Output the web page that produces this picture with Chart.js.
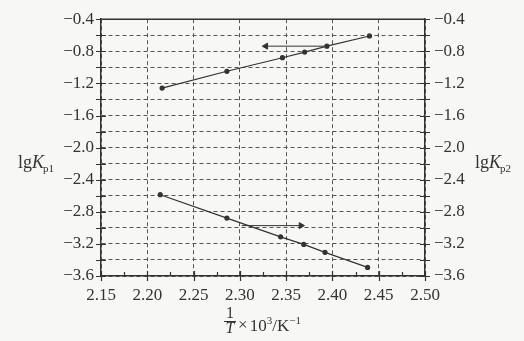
<!DOCTYPE html>
<html>
<head>
<meta charset="utf-8">
<script src="https://cdn.jsdelivr.net/npm/chart.js@4/dist/chart.umd.min.js"></script>
<style>
    html, body { margin: 0; padding: 0; background: #f7f7f5; }
    #wrap { width: 524px; height: 341px; }
</style>
</head>
<body>
<div id="wrap"><canvas id="lgkChart" width="524" height="341"></canvas></div>
<script>
// ===== 数据 =====
const invT1 = [2.216, 2.286, 2.346, 2.370, 2.394, 2.440];       // 上面一条线 1/T
const lgKp1 = [-1.258, -1.049, -0.880, -0.810, -0.736, -0.609];
const invT2 = [2.214, 2.286, 2.344, 2.369, 2.392, 2.438];       // 下面一条线 1/T
const lgKp2 = [-2.587, -2.878, -3.112, -3.206, -3.305, -3.493];

// 箭头（指向所读的坐标轴）
const arrow1X = [2.394, 2.328];
const arrow1Y = [-0.736, -0.736];
const arrow2X = [2.302, 2.366];
const arrow2Y = [-2.972, -2.972];

// 刻度标签
const xTickLabels = ['2.15', '2.20', '2.25', '2.30', '2.35', '2.40', '2.45', '2.50'];
const yTickLabels = ['−0.4', '−0.8', '−1.2', '−1.6', '−2.0', '−2.4', '−2.8', '−3.2', '−3.6'];

const ink = '#333333';
const gridInk = '#555555';
const serif = "'Liberation Serif', 'DejaVu Serif', serif";

function toPts(xs, ys) {
    return xs.map((x, i) => ({ x: x, y: ys[i] }));
}

function findLabel(labels, value) {
    const hit = labels.find(l => Math.abs(Number(l.replace('−', '-')) - value) < 1e-6);
    return hit ? hit : '';
}

// ===== 坐标轴上的短刻度线（穿过轴线） =====
const crossTicks = {
    id: 'crossTicks',
    afterDraw(chart) {
        const ctx = chart.ctx;
        const area = chart.chartArea;
        const xs = chart.scales.x;
        const yl = chart.scales.y;
        ctx.save();
        ctx.strokeStyle = ink;
        ctx.lineWidth = 1.2;
        ctx.beginPath();
        yl.ticks.forEach(t => {
            const py = Math.round(yl.getPixelForValue(t.value)) + 0.5;
            ctx.moveTo(area.left - 5, py); ctx.lineTo(area.left + 5, py);
            ctx.moveTo(area.right - 5, py); ctx.lineTo(area.right + 5, py);
        });
        xs.ticks.forEach(t => {
            const px = Math.round(xs.getPixelForValue(t.value)) + 0.5;
            const major = findLabel(xTickLabels, t.value) !== '';
            if (major) {
                ctx.moveTo(px, area.bottom - 5); ctx.lineTo(px, area.bottom + 5);
            } else {
                ctx.moveTo(px, area.bottom - 4); ctx.lineTo(px, area.bottom);
            }
        });
        ctx.stroke();
        ctx.restore();
    }
};

// ===== 轴标题（lgKp1、lgKp2、1/T×10³/K⁻¹） =====
function drawLgK(ctx, x, y, sub) {
    ctx.font = '18px ' + serif;
    ctx.fillText('lg', x, y);
    let w = ctx.measureText('lg').width;
    ctx.font = 'italic 18px ' + serif;
    ctx.fillText('K', x + w, y);
    w += ctx.measureText('K').width;
    ctx.font = '11px ' + serif;
    ctx.fillText(sub, x + w - 1, y + 4);
}

const axisText = {
    id: 'axisText',
    afterDraw(chart) {
        const ctx = chart.ctx;
        ctx.save();
        ctx.fillStyle = ink;
        ctx.textBaseline = 'alphabetic';
        ctx.textAlign = 'left';
        drawLgK(ctx, 18, 168, 'p1');
        drawLgK(ctx, 475, 168, 'p2');

        // 分数 1/T
        const fx = 230;
        ctx.textAlign = 'center';
        ctx.font = '16px ' + serif;
        ctx.fillText('1', fx, 318);
        ctx.font = 'italic 16px ' + serif;
        ctx.fillText('T', fx, 333);
        ctx.strokeStyle = ink;
        ctx.lineWidth = 1;
        ctx.beginPath();
        ctx.moveTo(fx - 6, 321.5); ctx.lineTo(fx + 6, 321.5);
        ctx.stroke();

        // × 10³/K⁻¹
        ctx.textAlign = 'left';
        let x = 238;
        ctx.font = '17px ' + serif;
        ctx.fillText('×', x, 330);
        x += ctx.measureText('× ').width - 2;
        ctx.fillText('10', x, 331);
        x += ctx.measureText('10').width;
        ctx.font = '11px ' + serif;
        ctx.fillText('3', x, 324);
        x += ctx.measureText('3').width;
        ctx.font = '17px ' + serif;
        ctx.fillText('/K', x, 331);
        x += ctx.measureText('/K').width;
        ctx.font = '11px ' + serif;
        ctx.fillText('−1', x, 324);
        ctx.restore();
    }
};

const lineStyle = {
    showLine: true,
    borderColor: ink,
    borderWidth: 1.2,
    pointBackgroundColor: ink,
    pointBorderColor: ink,
    pointRadius: 2,
    fill: false,
    tension: 0
};

const arrowStyle = {
    showLine: true,
    borderColor: ink,
    borderWidth: 1,
    backgroundColor: ink,
    pointBackgroundColor: ink,
    pointBorderColor: ink,
    pointStyle: 'triangle',
    pointRadius: [0, 3.5],
    fill: false
};

const tickFont = { family: serif, size: 17 };

const ctx = document.getElementById('lgkChart').getContext('2d');

const lgkChart = new Chart(ctx, {
    type: 'scatter',
    data: {
        datasets: [
            Object.assign({ label: 'lgKp1', data: toPts(invT1, lgKp1), yAxisID: 'y' }, lineStyle),
            Object.assign({ label: 'lgKp2', data: toPts(invT2, lgKp2), yAxisID: 'y2' }, lineStyle),
            Object.assign({ label: 'arrow1', data: toPts(arrow1X, arrow1Y), yAxisID: 'y', pointRotation: -90 }, arrowStyle),
            Object.assign({ label: 'arrow2', data: toPts(arrow2X, arrow2Y), yAxisID: 'y2', pointRotation: 90 }, arrowStyle)
        ]
    },
    options: {
        responsive: false,
        animation: false,
        layout: { padding: { top: 16, left: 0, right: 0, bottom: 0 } },
        plugins: {
            legend: { display: false },
            tooltip: { enabled: false }
        },
        scales: {
            x: {
                type: 'linear',
                min: 2.15,
                max: 2.50,
                ticks: {
                    stepSize: 0.025,
                    autoSkip: false,
                    maxRotation: 0,
                    padding: 9,
                    color: ink,
                    font: tickFont,
                    callback: v => findLabel(xTickLabels, v)
                },
                grid: {
                    drawTicks: false,
                    lineWidth: 1,
                    color: c => (c.tick && findLabel(xTickLabels, c.tick.value) !== '') ? gridInk : 'rgba(0,0,0,0)'
                },
                border: { display: true, color: ink, width: 1.5, dash: [4, 3] },
                afterFit: s => { s.height = 65; }
            },
            y: {
                position: 'left',
                min: -3.6,
                max: -0.4,
                ticks: {
                    stepSize: 0.2,
                    autoSkip: false,
                    padding: 7,
                    color: ink,
                    font: tickFont,
                    callback: v => findLabel(yTickLabels, v)
                },
                grid: { drawTicks: false, lineWidth: 1, color: gridInk },
                border: { display: true, color: ink, width: 1.5, dash: [4, 3] },
                afterFit: s => { s.width = 101; }
            },
            y2: {
                position: 'right',
                min: -3.6,
                max: -0.4,
                ticks: {
                    stepSize: 0.2,
                    autoSkip: false,
                    padding: 9,
                    color: ink,
                    font: tickFont,
                    callback: v => findLabel(yTickLabels, v)
                },
                grid: { drawOnChartArea: false, drawTicks: false },
                border: { display: true, color: ink, width: 1.5 },
                afterFit: s => { s.width = 99; }
            }
        }
    },
    plugins: [crossTicks, axisText, {
        id: 'topFrame',
        afterDraw(chart) {
            const a = chart.chartArea;
            const c = chart.ctx;
            c.save();
            c.strokeStyle = ink;
            c.lineWidth = 1.5;
            c.beginPath();
            c.moveTo(a.left, a.top); c.lineTo(a.right, a.top);
            c.stroke();
            c.restore();
        }
    }]
});
</script>
</body>
</html>
